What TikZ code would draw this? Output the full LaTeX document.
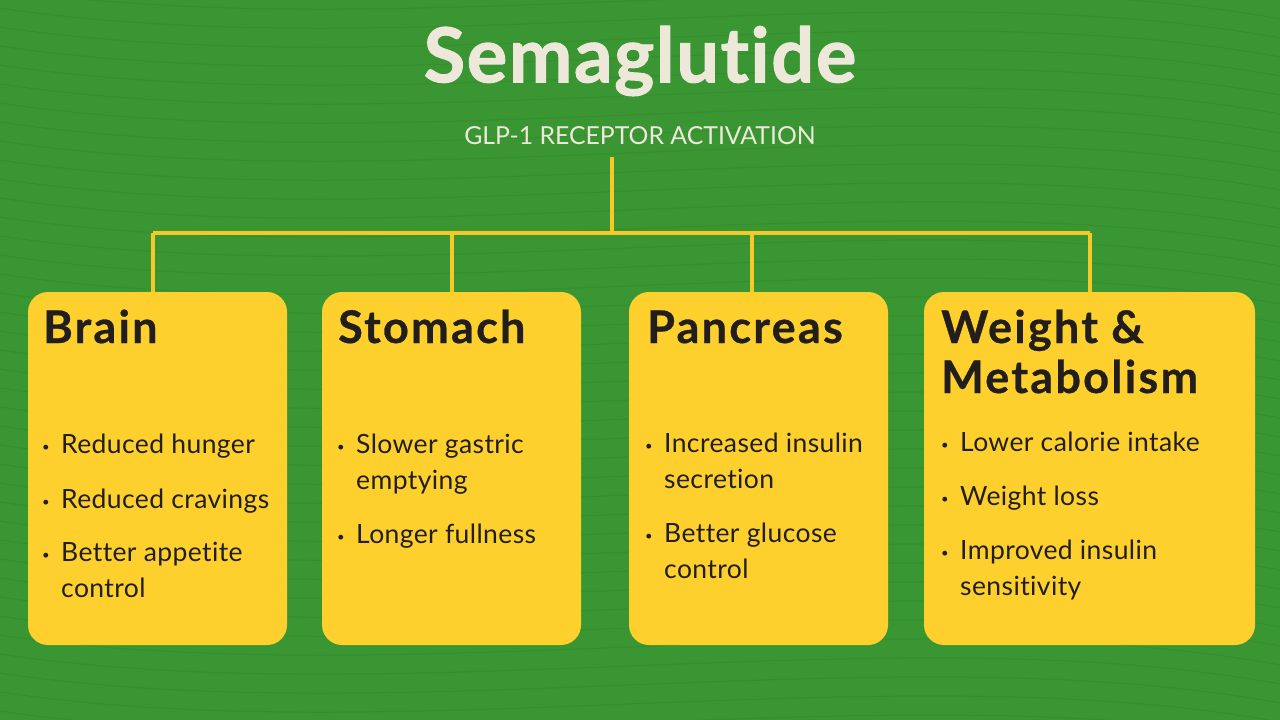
\documentclass[tikz,border=0pt]{standalone}
\usepackage{fontspec}
\setmainfont{Lato}[Ligatures={NoCommon,NoRare}]
\definecolor{bggreen}{RGB}{58,150,50}
\definecolor{linegold}{RGB}{246,200,40}
\definecolor{boxgold}{RGB}{253,208,46}
\definecolor{cream}{RGB}{238,232,218}
\definecolor{ink}{RGB}{34,30,28}
\tikzset{
  panel/.style={fill=boxgold,rounded corners=20pt,draw=none},
  link/.style={draw=linegold,line width=4pt},
  heading/.style={anchor=base west,inner sep=0pt,text=ink,font=\fontsize{45}{50}\selectfont\bfseries\addfontfeature{LetterSpace=5,FakeBold=0.6}},
  itemtext/.style={anchor=base west,inner sep=0pt,text=ink,font=\fontsize{26.5}{30}\selectfont\addfontfeature{LetterSpace=1.5}},
  dot/.style={anchor=base west,inner sep=0pt,text=ink,font=\fontsize{13}{16}\selectfont},
}
\begin{document}
\begin{tikzpicture}[x=1pt,y=-1pt]
\fill[bggreen] (0,0) rectangle (1280,720);
\useasboundingbox (0,0) rectangle (1280,720);
% subtle texture
\foreach \i in {0,...,40}{
  \pgfmathsetmacro{\yy}{\i*19-30}
  \draw[black,opacity=0.05,line width=1.2pt] (0,\yy) .. controls (400,\yy+60) and (900,\yy-40) .. (1280,\yy+30);
}
\node[text=cream,font=\fontsize{76}{80}\selectfont\bfseries\addfontfeature{LetterSpace=2,FakeBold=1.2}] (title) at (640,61) {Semaglutide};
\node[text=cream,font=\fontsize{24.8}{28}\selectfont,inner sep=2pt] (sub) at (640,136) {GLP-1 RECEPTOR ACTIVATION};

% boxes
\path[panel] (28,292) rectangle (287,645);
\path[panel] (322,292) rectangle (581,645);
\path[panel] (629,292) rectangle (888,645);
\path[panel] (924,292) rectangle (1255,645);
\coordinate (b1) at (153,292);
\coordinate (b2) at (452,292);
\coordinate (b3) at (752,292);
\coordinate (b4) at (1090,292);
\coordinate (hub) at (612,233);
\coordinate (s) at (612,157);
\draw[link] (s) -- (hub);
\draw[link] (b1|-hub) -- (b4|-hub);
\foreach \b in {b1,b2,b3,b4}{\draw[link] (\b|-hub) -- (\b);}

% Brain
\node[heading] (h1) at (43,343) {Brain};
\node[dot] (d11) at (42,451) {•};
\node[itemtext] (t11) at (61,453) {Reduced hunger};
\node[dot] (d12) at (42,506) {•};
\node[itemtext] (t12) at (61,508) {Reduced cravings};
\node[dot] (d13) at (42,559) {•};
\node[itemtext] (t13) at (61,561) {Better appetite};
\node[itemtext] (t14) at (61,597) {control};

% Stomach
\node[heading] (h2) at (338,343) {Stomach};
\node[dot] (d21) at (337,451) {•};
\node[itemtext] (t21) at (356,453) {Slower gastric};
\node[itemtext] (t22) at (356,489) {emptying};
\node[dot] (d22) at (337,541) {•};
\node[itemtext] (t23) at (356,543) {Longer fullness};

% Pancreas
\node[heading] (h3) at (647,343) {Pancreas};
\node[dot] (d31) at (645,450) {•};
\node[itemtext] (t31) at (664,452) {Increased insulin};
\node[itemtext] (t32) at (664,488) {secretion};
\node[dot] (d32) at (645,540) {•};
\node[itemtext] (t33) at (664,542) {Better glucose};
\node[itemtext] (t34) at (664,578) {control};

% Weight & Metabolism
\node[heading] (h4) at (941,343) {Weight \&};
\node[heading] (h5) at (941,393) {Metabolism};
\node[dot] (d41) at (941,449) {•};
\node[itemtext] (t41) at (960,451) {Lower calorie intake};
\node[dot] (d42) at (941,503) {•};
\node[itemtext] (t42) at (960,505) {Weight loss};
\node[dot] (d43) at (941,557) {•};
\node[itemtext] (t43) at (960,559) {Improved insulin};
\node[itemtext] (t44) at (960,595) {sensitivity};
\end{tikzpicture}
\end{document}
